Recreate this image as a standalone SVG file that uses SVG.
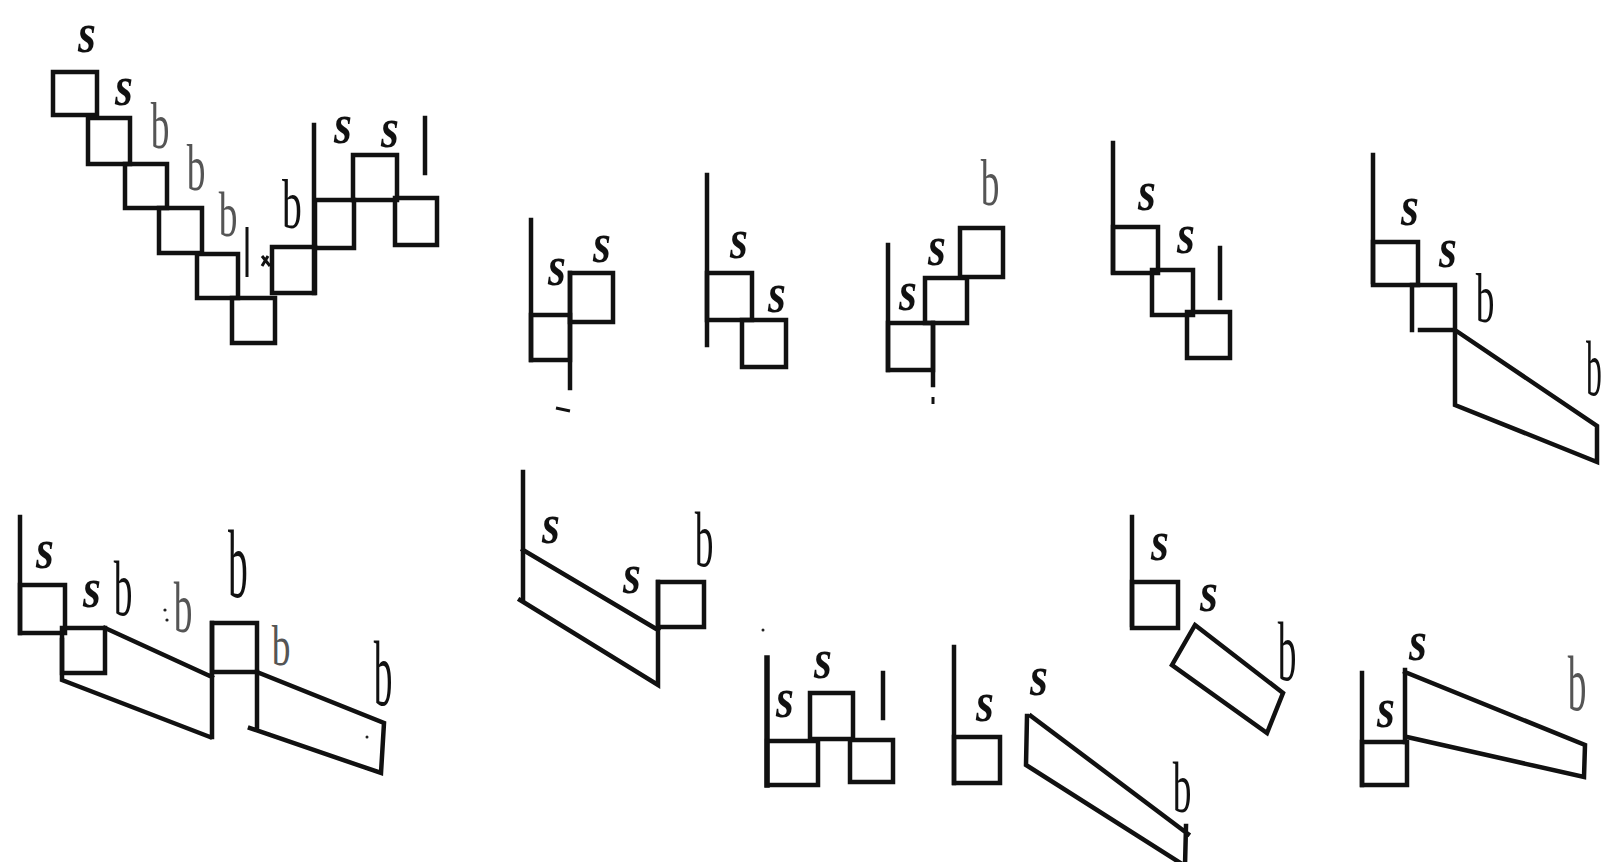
<svg xmlns="http://www.w3.org/2000/svg" width="1606" height="862" viewBox="0 0 1606 862">
<style>
.ln{fill:none;stroke:#111;stroke-width:4.5;stroke-linejoin:miter;stroke-linecap:square}
.th{fill:none;stroke:#111;stroke-width:3}
.s{font-family:"Liberation Serif",serif;font-weight:bold;font-style:italic;font-size:46px;text-anchor:middle;fill:#111}
.b{font-family:"Liberation Serif",serif;font-size:44px;text-anchor:middle;fill:#111}
.f{fill:#555}
.dot{fill:#222}
</style>
<rect width="1606" height="862" fill="#fff"/>

<g id="fig1">
  <rect class="ln" x="53" y="72" width="44" height="43"/>
  <rect class="ln" x="88" y="118" width="42" height="46"/>
  <rect class="ln" x="125" y="164" width="42" height="44"/>
  <rect class="ln" x="159" y="208" width="43" height="45"/>
  <rect class="ln" x="197" y="254" width="41" height="44"/>
  <rect class="ln" x="232" y="298" width="43" height="45"/>
  <rect class="ln" x="272" y="247" width="43" height="46"/>
  <rect class="ln" x="315" y="200" width="39" height="48"/>
  <rect class="ln" x="353" y="155" width="44" height="45"/>
  <rect class="ln" x="395" y="198" width="42" height="47"/>
  <line class="ln" x1="314" y1="125" x2="314" y2="293"/>
  <line class="ln" x1="425" y1="118" x2="425" y2="173"/>
  <line class="th" x1="247" y1="227" x2="247" y2="277"/>
  <path class="th" d="M262 256 L270 266 M268 256 L262 266"/>
  <text class="s" transform="translate(87,52) scale(1,1.25)">s</text>
  <text class="s" transform="translate(124,105) scale(1,1.25)">s</text>
  <text class="s" transform="translate(343,143) scale(1,1.25)">s</text>
  <text class="s" transform="translate(390,147) scale(1,1.25)">s</text>
  <text class="b f" transform="translate(160,148) scale(0.85,1.5)">b</text>
  <text class="b f" transform="translate(196,190) scale(0.85,1.5)">b</text>
  <text class="b f" transform="translate(228,236) scale(0.85,1.45)">b</text>
  <text class="b" transform="translate(292,228) scale(0.9,1.6)">b</text>
</g>

<g id="fig2">
  <line class="ln" x1="531" y1="220" x2="531" y2="360"/>
  <rect class="ln" x="531" y="315" width="39" height="45"/>
  <rect class="ln" x="570" y="273" width="43" height="49"/>
  <line class="ln" x1="570" y1="273" x2="570" y2="388"/>
  <line class="th" x1="556" y1="408" x2="570" y2="411"/>
  <text class="s" transform="translate(557,285) scale(1,1.25)">s</text>
  <text class="s" transform="translate(602,262) scale(1,1.25)">s</text>
</g>

<g id="fig3">
  <line class="ln" x1="707" y1="175" x2="707" y2="345"/>
  <rect class="ln" x="707" y="273" width="45" height="47"/>
  <rect class="ln" x="742" y="320" width="44" height="47"/>
  <text class="s" transform="translate(739,258) scale(1,1.25)">s</text>
  <text class="s" transform="translate(777,312) scale(1,1.25)">s</text>
</g>

<g id="fig4">
  <line class="ln" x1="888" y1="245" x2="888" y2="370"/>
  <rect class="ln" x="888" y="323" width="45" height="47"/>
  <line class="ln" x1="933" y1="323" x2="933" y2="385"/>
  <line class="th" x1="933" y1="397" x2="933" y2="404"/>
  <rect class="ln" x="925" y="278" width="42" height="45"/>
  <rect class="ln" x="960" y="228" width="43" height="49"/>
  <text class="s" transform="translate(908,310) scale(1,1.25)">s</text>
  <text class="s" transform="translate(937,265) scale(1,1.25)">s</text>
  <text class="b f" transform="translate(990,205) scale(0.85,1.5)">b</text>
</g>

<g id="fig5">
  <line class="ln" x1="1113" y1="143" x2="1113" y2="272"/>
  <rect class="ln" x="1113" y="227" width="45" height="46"/>
  <rect class="ln" x="1152" y="270" width="41" height="45"/>
  <rect class="ln" x="1187" y="312" width="43" height="46"/>
  <line class="ln" x1="1220" y1="248" x2="1220" y2="298"/>
  <text class="s" transform="translate(1147,210) scale(1,1.25)">s</text>
  <text class="s" transform="translate(1186,253) scale(1,1.25)">s</text>
</g>

<g id="fig6">
  <line class="ln" x1="1373" y1="155" x2="1373" y2="282"/>
  <rect class="ln" x="1373" y="242" width="45" height="43"/>
  <path class="ln" d="M1412 285 L1412 330 M1420 330 L1455 330 M1412 285 L1455 285 L1455 405 L1597 462 L1597 426 L1455 330"/>
  <text class="s" transform="translate(1410,225) scale(1,1.25)">s</text>
  <text class="s" transform="translate(1448,267) scale(1,1.25)">s</text>
  <text class="b" transform="translate(1485,322) scale(0.85,1.6)">b</text>
  <text class="b" transform="translate(1594,395) scale(0.72,1.8)">b</text>
</g>

<g id="fig7">
  <line class="ln" x1="20" y1="517" x2="20" y2="633"/>
  <rect class="ln" x="20" y="585" width="45" height="48"/>
  <rect class="ln" x="62" y="628" width="43" height="45"/>
  <path class="ln" d="M105 628 L212 677 M62 640 L62 680 L210 737 M212 623 L212 737"/>
  <rect class="ln" x="212" y="623" width="45" height="49"/>
  <path class="ln" d="M257 672 L257 730 M257 672 L384 723 L381 773 L250 728"/>
  <circle class="dot" cx="367" cy="737" r="1.5"/>
  <text class="s" transform="translate(45,568) scale(1,1.25)">s</text>
  <text class="s" transform="translate(92,607) scale(1,1.25)">s</text>
  <text class="b" transform="translate(123,615) scale(0.85,1.8)">b</text>
  <circle class="dot" cx="165" cy="610" r="1.6"/>
  <circle class="dot" cx="167" cy="620" r="1.6"/>
  <text class="b f" transform="translate(183,632) scale(0.85,1.65)">b</text>
  <text class="b" transform="translate(238,597) scale(0.9,2.2)">b</text>
  <text class="b f" transform="translate(281,665) scale(0.85,1.3)">b</text>
  <text class="b" transform="translate(383,705) scale(0.85,2.1)">b</text>
</g>

<g id="fig8">
  <line class="ln" x1="523" y1="472" x2="523" y2="600"/>
  <path class="ln" d="M523 550 L658 630 M520 600 L658 685 L658 582"/>
  <rect class="ln" x="658" y="582" width="46" height="45"/>
  <text class="s" transform="translate(551,543) scale(1,1.25)">s</text>
  <text class="s" transform="translate(632,593) scale(1,1.25)">s</text>
  <text class="b" transform="translate(704,566) scale(0.85,1.8)">b</text>
</g>

<g id="fig9">
  <circle class="dot" cx="763" cy="630" r="1.5"/>
  <line class="ln" x1="767" y1="658" x2="767" y2="785" style="stroke-width:5.5"/>
  <rect class="ln" x="767" y="741" width="51" height="44"/>
  <rect class="ln" x="810" y="693" width="43" height="46"/>
  <rect class="ln" x="850" y="740" width="43" height="42"/>
  <line class="ln" x1="883" y1="673" x2="883" y2="718"/>
  <text class="s" transform="translate(785,717) scale(1,1.25)">s</text>
  <text class="s" transform="translate(823,678) scale(1,1.25)">s</text>
</g>

<g id="fig10">
  <line class="ln" x1="954" y1="647" x2="954" y2="783"/>
  <rect class="ln" x="954" y="737" width="46" height="46"/>
  <path class="ln" d="M1027 716 L1026 765 L1182 864 M1031 716 L1188 834 M1186 826 L1185 866"/>
  <text class="s" transform="translate(985,721) scale(1,1.25)">s</text>
  <text class="s" transform="translate(1039,695) scale(1,1.25)">s</text>
  <text class="b" transform="translate(1182,812) scale(0.85,1.65)">b</text>
</g>

<g id="fig11">
  <line class="ln" x1="1132" y1="517" x2="1132" y2="625"/>
  <rect class="ln" x="1132" y="582" width="46" height="46"/>
  <polygon class="ln" points="1195,625 1283,693 1267,733 1172,665"/>
  <text class="s" transform="translate(1160,560) scale(1,1.25)">s</text>
  <text class="s" transform="translate(1209,611) scale(1,1.25)">s</text>
  <text class="b" transform="translate(1287,680) scale(0.85,1.9)">b</text>
</g>

<g id="fig12">
  <line class="ln" x1="1362" y1="673" x2="1362" y2="785"/>
  <rect class="ln" x="1362" y="742" width="45" height="43"/>
  <path class="ln" d="M1405 670 L1405 742 M1405 672 L1585 745 L1584 777 L1407 737"/>
  <text class="s" transform="translate(1386,727) scale(1,1.25)">s</text>
  <text class="s" transform="translate(1418,660) scale(1,1.25)">s</text>
  <text class="b f" transform="translate(1577,710) scale(0.85,1.8)">b</text>
</g>
</svg>
